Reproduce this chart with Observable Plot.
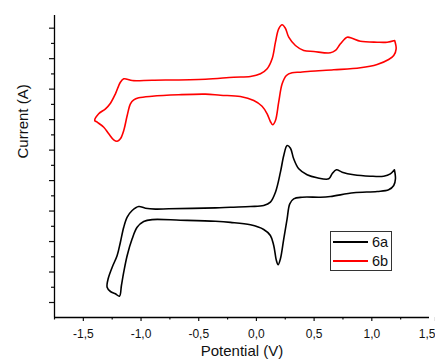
<!DOCTYPE html>
<html>
<head>
<meta charset="utf-8">
<script src="https://cdn.jsdelivr.net/npm/d3@7"></script>
<script src="https://cdn.jsdelivr.net/npm/@observablehq/plot@0.6"></script>
<style>
html, body { margin: 0; padding: 0; background: #fff; }
#wrap { position: relative; width: 435px; height: 363px; overflow: hidden; font-family: "Liberation Sans", Arial, sans-serif; }
#wrap svg { display: block; }
#legend { position: absolute; left: 330px; top: 231px; width: 60px; height: 38px; border: 1px solid #333; background: #fff; }
.item { position: absolute; left: 0; height: 18px; width: 60px; }
.sw { position: absolute; left: 2px; width: 35px; height: 2px; }
.lab { position: absolute; left: 41px; font-size: 14.5px; color: #111; line-height: 18px; top: 0; }
</style>
</head>
<body>
<div id="wrap"><div id="legend"></div></div>
<script>
// Series names and colours
const seriesNames = ["6a", "6b"];
const seriesColors = ["#000000", "#ff0000"];

// Axis settings
const xDomain = [-1.75, 1.5];
const yDomain = [0.508, 10.416];
const xMajor = [-1.5, -1.0, -0.5, 0.0, 0.5, 1.0];
const xLast = [1.5];
const xMinor = [-1.75, -1.25, -0.75, -0.25, 0.25, 0.75, 1.25];
const yMajor = [1, 2, 3, 4, 5, 6, 7, 8, 9, 10];
const yMinor = [1.5, 2.5, 3.5, 4.5, 5.5, 6.5, 7.5, 8.5, 9.5];
const xLabel = "Potential (V)";
const yLabel = "Current (A)";

// 6a (black) voltammogram, traced as a closed loop: potential (V) and current (arbitrary units)
const a6_V = [1.196,1.205,1.190,1.146,1.046,0.843,0.641,0.555,0.396,0.323,0.289,0.266,0.237,0.208,0.188,0.173,0.150,0.121,0.063,-0.052,-0.225,-0.355,-0.659,-0.904,-0.977,-1.034,-1.077,-1.120,-1.150,-1.170,-1.187,-1.222,-1.265,-1.294,-1.285,-1.250,-1.207,-1.179,-1.150,-1.120,-1.077,-1.020,-0.962,-0.875,-0.760,-0.355,-0.225,-0.052,0.063,0.121,0.165,0.208,0.237,0.266,0.295,0.323,0.367,0.439,0.526,0.627,0.656,0.693,0.743,0.843,0.988,1.103,1.161,1.196];
const a6_I = [5.354,5.058,4.839,4.698,4.642,4.599,4.478,4.455,4.455,4.402,4.238,3.746,3.090,2.434,2.237,2.378,2.870,3.198,3.395,3.549,3.630,3.665,3.700,3.720,3.657,3.470,3.090,2.542,1.994,1.558,1.207,1.285,1.361,1.502,1.778,2.158,2.542,2.978,3.470,3.799,4.018,4.150,4.094,4.065,4.075,4.105,4.127,4.150,4.182,4.291,4.619,5.275,5.823,6.151,6.062,5.715,5.386,5.190,5.091,5.058,5.222,5.354,5.275,5.190,5.144,5.144,5.222,5.354];

// 6b (red) voltammogram
const b6_V = [1.198,1.211,1.190,1.146,1.046,0.901,0.670,0.468,0.381,0.309,0.260,0.223,0.193,0.165,0.141,0.121,0.093,0.049,-0.023,-0.139,-0.312,-0.442,-0.673,-0.904,-1.020,-1.063,-1.092,-1.120,-1.150,-1.179,-1.207,-1.237,-1.280,-1.323,-1.380,-1.401,-1.367,-1.308,-1.265,-1.222,-1.179,-1.150,-1.120,-1.077,-0.904,-0.442,-0.197,-0.052,0.035,0.093,0.136,0.165,0.193,0.223,0.251,0.280,0.338,0.410,0.497,0.641,0.685,0.728,0.786,0.829,0.901,1.046,1.133,1.198];
const b6_I = [9.596,9.323,9.104,8.972,8.808,8.700,8.635,8.589,8.556,8.536,8.448,8.175,7.572,6.971,6.830,6.938,7.191,7.440,7.627,7.759,7.800,7.835,7.815,7.768,7.716,7.650,7.519,7.135,6.643,6.371,6.292,6.338,6.535,6.751,6.915,6.971,7.191,7.355,7.539,7.847,8.228,8.339,8.326,8.283,8.293,8.326,8.392,8.415,8.503,8.667,8.995,9.540,9.980,10.111,9.999,9.704,9.432,9.268,9.235,9.192,9.268,9.488,9.704,9.671,9.573,9.540,9.540,9.596];

const rowsA = a6_V.map((v, i) => ({V: v, I: a6_I[i]}));
const rowsB = b6_V.map((v, i) => ({V: v, I: b6_I[i]}));

const fmt = d => (d < 0 ? "-" : "") + Math.abs(d).toFixed(1).replace(".", ",");
const blank = () => "";

const chart = Plot.plot({
  width: 435,
  height: 363,
  marginLeft: 54,
  marginRight: 6,
  marginTop: 15,
  marginBottom: 46,
  x: {domain: xDomain},
  y: {domain: yDomain},
  style: {fontFamily: "'Liberation Sans', Arial, sans-serif", fontSize: "12px", color: "#111", background: "transparent", overflow: "visible"},
  marks: [
    Plot.axisX({ticks: xMajor, tickSize: 4, tickPadding: 8, tickFormat: fmt, label: null, strokeWidth: 1.2}),
    Plot.axisX({ticks: xLast, tickSize: 4, tickPadding: 8, tickFormat: fmt, label: null, strokeWidth: 1.2, textAnchor: "end", dx: 6}),
    Plot.axisX({ticks: xMinor, tickSize: 2.5, tickFormat: blank, label: null, strokeWidth: 1.2}),
    Plot.axisY({ticks: yMajor, tickSize: 5, tickFormat: blank, label: null, strokeWidth: 1.2}),
    Plot.axisY({ticks: yMinor, tickSize: 3, tickFormat: blank, label: null, strokeWidth: 1.2}),
    Plot.ruleX([xDomain[0]], {stroke: "#000", strokeWidth: 1.3}),
    Plot.ruleY([yDomain[0]], {stroke: "#000", strokeWidth: 1.3}),
    Plot.line(rowsA, {x: "V", y: "I", stroke: seriesColors[0], strokeWidth: 1.6, curve: "catmull-rom"}),
    Plot.line(rowsB, {x: "V", y: "I", stroke: seriesColors[1], strokeWidth: 1.6, curve: "catmull-rom"}),
    Plot.text([xLabel], {frameAnchor: "bottom", dy: 38, text: d => d, fontSize: 15, fill: "#111"}),
    Plot.text([yLabel], {frameAnchor: "left", dx: -31, dy: -8, rotate: -90, text: d => d, fontSize: 15, fill: "#111"})
  ]
});
document.getElementById("wrap").prepend(chart);

// Legend
const legend = document.getElementById("legend");
seriesNames.forEach((name, i) => {
  const item = document.createElement("div");
  item.className = "item";
  item.style.top = (1 + i * 18.5) + "px";
  const sw = document.createElement("div");
  sw.className = "sw";
  sw.style.top = "8px";
  sw.style.background = seriesColors[i];
  const lab = document.createElement("div");
  lab.className = "lab";
  lab.textContent = name;
  item.appendChild(sw);
  item.appendChild(lab);
  legend.appendChild(item);
});
</script>
</body>
</html>
